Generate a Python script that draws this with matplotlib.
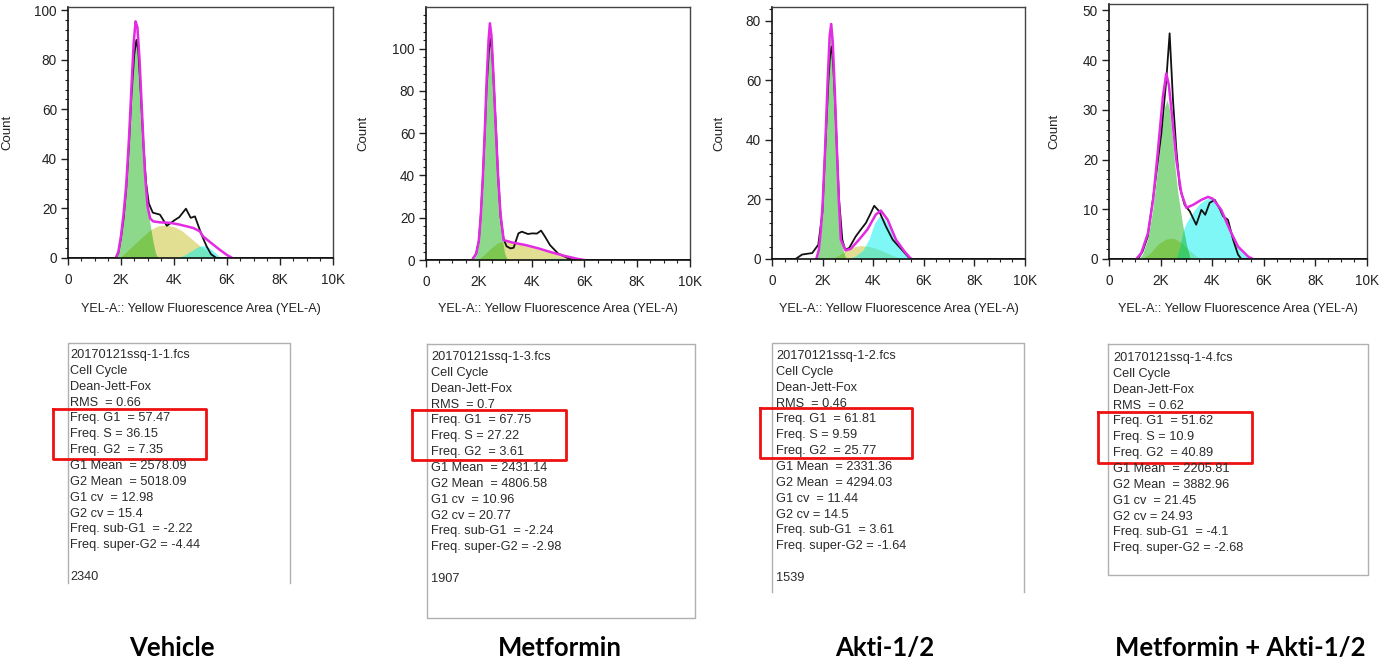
import matplotlib.pyplot as plt
from matplotlib.ticker import MultipleLocator, FixedLocator
from matplotlib.lines import Line2D

W, H = 1384, 671

# ---- Vehicle ----
x1_data = [0, 1800, 1900, 2000, 2100, 2200, 2300, 2400, 2500, 2580, 2650, 2750, 2850, 2950, 3050,
           3200, 3470, 3730, 4040, 4200, 4450, 4630, 4790, 5040, 5230, 5400, 5600, 10000]
y1_data = [0, 0, 2, 8, 16, 28, 45, 66, 82, 88, 84, 66, 45, 30, 22,
           18.3, 17.5, 13, 15.4, 16.5, 19.9, 16.2, 16.8, 9.4, 4.7, 1.5, 0, 0]
x1_fit = [1800, 1900, 2000, 2100, 2200, 2300, 2400, 2480, 2550, 2620, 2700, 2800, 2900, 3000, 3100,
          3210, 3460, 3850, 4200, 4470, 4730, 4970, 5100, 5350, 5730, 6000, 6200]
y1_fit = [0, 2.5, 9, 18, 30, 48, 70, 87, 95.5, 93, 80, 57, 35, 21, 16,
          14.8, 14.4, 14.2, 13.5, 12.8, 12.1, 10.8, 8.7, 6.5, 3.3, 1.2, 0]
x1_g1 = [1800, 1900, 2000, 2100, 2200, 2300, 2400, 2480, 2560, 2640, 2720, 2800, 2900, 3000, 3100, 3200, 3300, 3400]
y1_g1 = [0, 2, 7, 15, 26, 42, 62, 79, 89, 87, 74, 55, 34, 21, 13.5, 7, 2, 0]
x1_s = [1950, 2200, 2500, 2800, 3100, 3400, 3700, 4000, 4300, 4600, 4900, 5200, 5500, 5750]
y1_s = [0, 2.5, 5.5, 8.5, 11.3, 13, 13.3, 12.6, 11, 8.3, 5.6, 3.2, 1.2, 0]
x1_g2 = [4100, 4400, 4700, 4900, 5100, 5300, 5500, 5700, 5850]
y1_g2 = [0, 1.2, 3.2, 4.5, 5, 4.3, 2.6, 0.8, 0]

# ---- Metformin ----
x2_data = [0, 1750, 1900, 2000, 2070, 2150, 2230, 2300, 2380, 2440, 2500, 2580, 2660, 2730, 2830, 2940,
           3050, 3200, 3320, 3500, 3630, 3860, 4030, 4200, 4360, 4510, 4700, 5000, 5390, 5640, 10000]
y2_data = [0, 0, 3, 9, 20, 38, 60, 82, 98, 104.7, 100, 80, 60, 40, 20, 10,
           6.5, 5.5, 5.8, 12.6, 13.4, 12.3, 12.6, 12.5, 13.9, 11, 7, 3.1, 0.8, 0, 0]
x2_fit = [1750, 1900, 2000, 2070, 2150, 2230, 2300, 2370, 2420, 2480, 2560, 2640, 2720, 2820, 2940,
          3260, 3760, 4260, 4760, 5260, 5760, 6000]
y2_fit = [0, 3, 9, 20, 38, 62, 86, 104, 112, 106, 86, 63, 42, 22, 9.4,
          8.3, 7.1, 5.5, 3.6, 1.9, 0.5, 0]
x2_g1 = [1800, 1900, 2000, 2080, 2160, 2240, 2310, 2380, 2440, 2500, 2580, 2660, 2740, 2820, 2900, 2980, 3060, 3150]
y2_g1 = [0, 2.5, 8, 18, 35, 57, 80, 99, 106, 100, 80, 57, 36, 20, 9, 3, 0.8, 0]
x2_s = [1950, 2200, 2450, 2700, 2900, 3100, 3400, 3700, 4000, 4300, 4600, 4900, 5200, 5500, 5750]
y2_s = [0, 2.5, 5.5, 8, 8.8, 8.6, 8, 7, 6, 5, 4, 2.8, 1.6, 0.6, 0]
x2_g2 = [4200, 4500, 4800, 5100, 5400, 5700]
y2_g2 = [0, 0.5, 0.9, 0.8, 0.4, 0]

# ---- Akti-1/2 ----
x3_data = [0, 930, 1190, 1590, 1830, 1990, 2120, 2230, 2300, 2360, 2420, 2490, 2570, 2650, 2780, 2890,
           3050, 3310, 3510, 3710, 3880, 4040, 4240, 4500, 4770, 5100, 5430, 5560, 10000]
y3_data = [0, 0, 1.5, 2, 4.8, 15.5, 40, 60, 69, 71.4, 65, 53.5, 36, 20, 6.5, 3.1,
           3.7, 7.6, 9.9, 12.1, 15, 17.9, 16, 11, 6.5, 3.4, 0.3, 0, 0]
x3_fit = [1750, 1850, 1920, 2000, 2100, 2200, 2280, 2340, 2400, 2480, 2560, 2640, 2720, 2910, 3110,
          3440, 3770, 4100, 4300, 4570, 4900, 5230, 5500]
y3_fit = [0, 3, 8.7, 18, 37, 60, 75, 79, 73, 57, 38, 20, 6.5, 2.9, 3.4,
          6.5, 9.9, 14.9, 16.3, 13.2, 6.5, 2.6, 0]
x3_g1 = [1750, 1850, 1950, 2050, 2150, 2230, 2300, 2340, 2400, 2480, 2560, 2640, 2720, 2800, 2880, 2960]
y3_g1 = [0, 3, 10, 26, 48, 66, 76, 78, 72, 56, 37, 20, 9, 3.5, 1, 0]
x3_s = [2300, 2600, 2900, 3200, 3500, 3800, 4100, 4400, 4700, 5000, 5200]
y3_s = [0, 1, 2.8, 4, 4.5, 4.3, 3.6, 2.6, 1.4, 0.5, 0]
x3_g2 = [3000, 3300, 3600, 3850, 4050, 4250, 4450, 4650, 4850, 5050, 5250, 5500]
y3_g2 = [0, 1, 3, 7, 12, 14.5, 13.5, 10.5, 7, 3.8, 1.6, 0]

# ---- Metformin + Akti-1/2 ----
x4_data = [0, 1120, 1300, 1500, 1770, 2030, 2220, 2350, 2480, 2610, 2740, 2930, 3130, 3380, 3580,
           3730, 3900, 4100, 4300, 4420, 4610, 4810, 5000, 5130, 10000]
y4_data = [0, 0, 1.5, 4.5, 14.6, 25.3, 36, 45.4, 32, 22, 14.6, 10.9, 9.6, 6.9, 9.9,
           8.9, 11.3, 11.9, 10, 8.6, 7.9, 3.9, 0.9, 0, 0]
x4_fit = [1060, 1250, 1510, 1710, 1900, 2090, 2220, 2320, 2420, 2610, 2800, 3000, 3260, 3580, 3840,
          4030, 4350, 4680, 5000, 5390, 5580]
y4_fit = [0, 1.2, 5.2, 11.9, 22, 32.7, 37.3, 35, 30, 20, 13.3, 10.3, 10.9, 11.9, 12.5,
          12.1, 9.9, 5.9, 2.5, 0.5, 0]
x4_g1 = [1150, 1300, 1500, 1700, 1900, 2050, 2150, 2250, 2350, 2450, 2550, 2650, 2750, 2850, 3000, 3150]
y4_g1 = [0, 1, 4, 10, 19, 26, 30.5, 32, 30, 25, 19, 14, 10.5, 7, 3, 0]
x4_s = [1300, 1600, 1900, 2200, 2500, 2800, 3100, 3400, 3600]
y4_s = [0, 1.2, 3, 4, 4.2, 3.3, 1.8, 0.5, 0]
x4_g2 = [2600, 2750, 2880, 3000, 3140, 3330, 3530, 3750, 3910, 4100, 4300, 4500, 4700, 4900, 5100, 5300, 5550]
y4_g2 = [0, 2.5, 5.8, 7.3, 8.5, 10, 11.2, 12, 12.3, 11.8, 10.2, 8, 5.5, 3.2, 1.6, 0.7, 0]

y_tops = [101.3, 119.7, 84.7, 51.3]
y_steps = [20, 20, 20, 10]
x_ticks = [0, 2000, 4000, 6000, 8000, 10000]
x_ticklabels = ['0', '2K', '4K', '6K', '8K', '10K']
x_labels = ['YEL-A:: Yellow Fluorescence Area (YEL-A)'] * 4

stats1 = ['20170121ssq-1-1.fcs', 'Cell Cycle', 'Dean-Jett-Fox', 'RMS  = 0.66', 'Freq. G1  = 57.47',
          'Freq. S = 36.15', 'Freq. G2  = 7.35', 'G1 Mean  = 2578.09', 'G2 Mean  = 5018.09',
          'G1 cv  = 12.98', 'G2 cv = 15.4', 'Freq. sub-G1  = -2.22', 'Freq. super-G2 = -4.44', '', '2340']
stats2 = ['20170121ssq-1-3.fcs', 'Cell Cycle', 'Dean-Jett-Fox', 'RMS  = 0.7', 'Freq. G1  = 67.75',
          'Freq. S = 27.22', 'Freq. G2  = 3.61', 'G1 Mean  = 2431.14', 'G2 Mean  = 4806.58',
          'G1 cv  = 10.96', 'G2 cv = 20.77', 'Freq. sub-G1  = -2.24', 'Freq. super-G2 = -2.98', '', '1907']
stats3 = ['20170121ssq-1-2.fcs', 'Cell Cycle', 'Dean-Jett-Fox', 'RMS  = 0.46', 'Freq. G1  = 61.81',
          'Freq. S = 9.59', 'Freq. G2  = 25.77', 'G1 Mean  = 2331.36', 'G2 Mean  = 4294.03',
          'G1 cv  = 11.44', 'G2 cv = 14.5', 'Freq. sub-G1  = 3.61', 'Freq. super-G2 = -1.64', '', '1539']
stats4 = ['20170121ssq-1-4.fcs', 'Cell Cycle', 'Dean-Jett-Fox', 'RMS  = 0.62', 'Freq. G1  = 51.62',
          'Freq. S = 10.9', 'Freq. G2  = 40.89', 'G1 Mean  = 2205.81', 'G2 Mean  = 3882.96',
          'G1 cv  = 21.45', 'G2 cv = 24.93', 'Freq. sub-G1  = -4.1', 'Freq. super-G2 = -2.68']

conditions = ['Vehicle', 'Metformin', 'Akti-1/2', 'Metformin + Akti-1/2']

plt.rcParams['font.family'] = ['Liberation Sans', 'DejaVu Sans']

fig = plt.figure(figsize=(W / 100, H / 100), dpi=100)


def fx(px):
    return px / W


def fy(py):
    return 1 - py / H


# axes boxes in pixels: left, top, right, bottom
ax_boxes = [(68, 7, 333, 258), (426, 7, 690, 260), (772, 7, 1025, 259), (1109, 4, 1367, 259)]
count_x = [13.5, 369, 725, 1060]
xlabel_y = 303

panels = [
    (x1_data, y1_data, x1_fit, y1_fit, x1_g1, y1_g1, x1_s, y1_s, x1_g2, y1_g2),
    (x2_data, y2_data, x2_fit, y2_fit, x2_g1, y2_g1, x2_s, y2_s, x2_g2, y2_g2),
    (x3_data, y3_data, x3_fit, y3_fit, x3_g1, y3_g1, x3_s, y3_s, x3_g2, y3_g2),
    (x4_data, y4_data, x4_fit, y4_fit, x4_g1, y4_g1, x4_s, y4_s, x4_g2, y4_g2),
]

for i, (xd, yd, xf, yf, xg1, yg1, xs, ys, xg2, yg2) in enumerate(panels):
    l, t, r, b = ax_boxes[i]
    ax = fig.add_axes([fx(l), fy(b), (r - l) / W, (b - t) / H])
    ax.fill_between(xs, ys, 0, color=(0.78, 0.75, 0.15), alpha=0.5, lw=0)
    ax.fill_between(xg2, yg2, 0, color=(0.0, 0.94, 0.94), alpha=0.5, lw=0)
    ax.fill_between(xg1, yg1, 0, color=(0.0, 0.67, 0.0), alpha=0.45, lw=0)
    ax.plot(xd, yd, color='#111111', lw=1.3, solid_joinstyle='round')
    ax.plot(xf, yf, color='#e22be2', lw=1.8, solid_joinstyle='round')
    ax.set_xlim(0, 10000)
    ax.set_ylim(0, y_tops[i])
    ax.xaxis.set_major_locator(FixedLocator(x_ticks))
    ax.set_xticklabels(x_ticklabels)
    ax.xaxis.set_minor_locator(MultipleLocator(500))
    ax.yaxis.set_major_locator(MultipleLocator(y_steps[i]))
    ax.yaxis.set_minor_locator(MultipleLocator(y_steps[i] / 5))
    ax.tick_params(which='major', direction='out', length=5, width=1, labelsize=9.8,
                   colors='#222222', pad=3)
    ax.tick_params(which='minor', direction='out', length=2.5, width=0.8, colors='#222222')
    ax.tick_params(axis='x', which='major', pad=6)
    for side in ['top', 'right']:
        ax.spines[side].set_color('#444444')
        ax.spines[side].set_linewidth(1.0)
    for side in ['left', 'bottom']:
        ax.spines[side].set_color('#111111')
        ax.spines[side].set_linewidth(1.2)
    ax.set_ylabel('Count', fontsize=9.5, color='#222222')
    ax.yaxis.set_label_coords((count_x[i] - l) / (r - l), 0.5)
    ax.set_xlabel(x_labels[i], fontsize=9.1, color='#222222')
    ax.xaxis.set_label_coords(0.5, (b - xlabel_y) / (b - t))

# stats text boxes: left, top, right, bottom, has bottom border
stat_boxes = [(68, 343, 290, 583, False), (427, 344, 695, 618, True),
              (772, 343, 1024, 592, False), (1108, 344, 1368, 575, True)]
text_x = [70, 431, 776, 1113]
text_y0 = [355, 357, 356, 358]
line_step = 15.86
red_boxes = [(53, 409, 206, 459), (412, 410, 566, 460), (760, 408, 912, 458), (1098, 412, 1252, 463)]
all_stats = [stats1, stats2, stats3, stats4]


def fig_line(xs, ys, color, lw):
    fig.add_artist(Line2D([fx(v) for v in xs], [fy(v) for v in ys], color=color, lw=lw,
                          transform=fig.transFigure))


for i, (l, t, r, b, closed) in enumerate(stat_boxes):
    if closed:
        fig_line([l, r, r, l, l], [t, t, b, b, t], '#b0b0b0', 1.0)
    else:
        fig_line([l, l, r, r], [b, t, t, b], '#b0b0b0', 1.0)
    for k, line in enumerate(all_stats[i]):
        fig.text(fx(text_x[i]), fy(text_y0[i] + k * line_step), line, fontsize=9.2,
                 color='#2a2a2a', ha='left', va='center')
    rl, rt, rr, rb = red_boxes[i]
    fig_line([rl, rr, rr, rl, rl], [rt, rt, rb, rb, rt], '#ee1111', 2.0)

label_x = [172, 560, 885, 1240]
for i, name in enumerate(conditions):
    fig.text(fx(label_x[i]), fy(648), name, fontsize=18.5, fontweight='bold',
             family=['Lato', 'DejaVu Sans'], ha='center', va='center', color='black')

fig.savefig('out.png', dpi=100)
